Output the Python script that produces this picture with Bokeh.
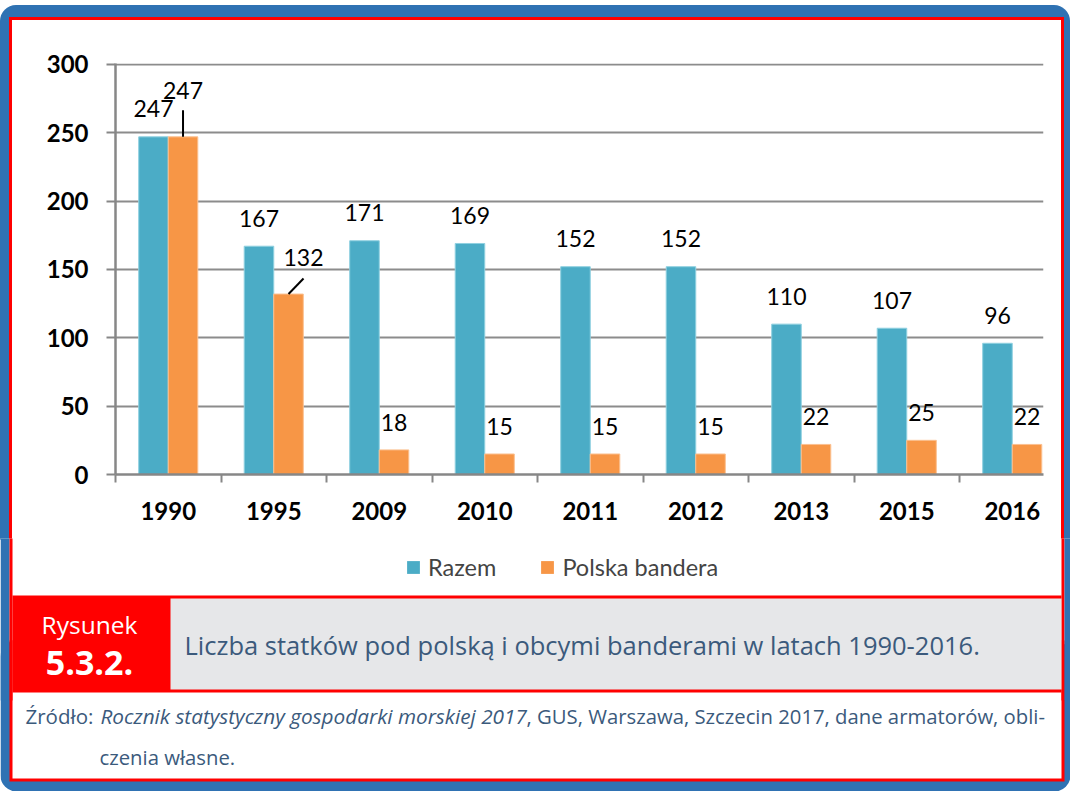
from bokeh.plotting import figure
from bokeh.layouts import column
from bokeh.models import Range1d, FixedTicker, Legend, LegendItem, ColumnDataSource
from bokeh.core.properties import value
from bokeh.embed import file_html
from bokeh.resources import INLINE

# ---------------- data ----------------
years = ["1990", "1995", "2009", "2010", "2011", "2012", "2013", "2015", "2016"]
razem = [247, 167, 171, 169, 152, 152, 110, 107, 96]
polska = [247, 132, 18, 15, 15, 15, 22, 25, 22]
y_ticks = [0, 50, 100, 150, 200, 250, 300]

series_names = ["Razem", "Polska bandera"]
caption_label = "Rysunek"
caption_number = "5.3.2."
caption_title = "Liczba  statków pod polską i obcymi banderami w latach 1990-2016."
source_a = "Źródło:"
source_b = "Rocznik statystyczny gospodarki morskiej 2017"
source_c = ", GUS, Warszawa, Szczecin 2017, dane armatorów, obli-"
source_d = "czenia własne."

# ---------------- styles ----------------
BLUE = "#4bacc6"
ORANGE = "#f79646"
FRAME_BLUE = "#2f72b3"
RED = "#ff0000"
GRAY_BOX = "#e6e7e9"
CAP_TEXT = "#3b5a7c"
AXIS_GRAY = "#878787"
FONT = "Lato"
CAP_FONT = "Open Sans"

TOTAL_W, TOTAL_H = 1070, 791
CHART_H = 540
OVERLAP = 2
CAP_H = TOTAL_H - CHART_H + OVERLAP

FL, FR, FT, FB = 115, 1043, 63, 474      # chart frame edges in canvas px
BAR_W = 0.28
PX_PER_CAT = 105.5
PX_PER_UNIT = 1.367
X_END = (FR - FL) / PX_PER_CAT - 0.5
Y_END = (FB - FT) / PX_PER_UNIT

# frame decoration for the chart part (blue rounded border, red inner line)
chart_bg = ("linear-gradient(#ffffff, #ffffff) 12px 20px / 1049px 100% no-repeat, "
            "linear-gradient(#ff0000, #ff0000) 9px 17px / 1055px 100% no-repeat, "
            + FRAME_BLUE)


def no_align(f):
    try:
        f.frame_align = False
    except Exception:
        pass


# ---------------- chart ----------------
idx = list(range(len(years)))
src = ColumnDataSource(dict(
    xr=[i - BAR_W / 2 for i in idx],
    xp=[i + BAR_W / 2 for i in idx],
    razem=razem, polska=polska,
    tr=[str(v) for v in razem], tp=[str(v) for v in polska],
    r_dy=[-28] * len(idx),
    p_dx=[0, 15] + [0] * (len(idx) - 2),
    p_dy=[-46, -36.5] + [-27.5] * (len(idx) - 2),
))

p = figure(width=TOTAL_W, height=CHART_H, output_backend="svg", toolbar_location=None,
           x_range=Range1d(-0.5, X_END), y_range=Range1d(0, Y_END),
           min_border_left=FL, min_border_right=TOTAL_W - FR,
           min_border_top=FT, min_border_bottom=CHART_H - FB,
           styles={"background": chart_bg,
                   "clip-path": "inset(5px 0px 0px 0px round 16px 16px 0px 0px)"})
no_align(p)
p.title.visible = False
p.outline_line_color = None
p.background_fill_color = "white"
p.border_fill_color = None

r1 = p.vbar(x="xr", top="razem", width=BAR_W, source=src, fill_color=BLUE,
            line_color="#8fd0e0", line_width=1)
r2 = p.vbar(x="xp", top="polska", width=BAR_W, source=src, fill_color=ORANGE,
            line_color="#fbc090", line_width=1)

p.text(x="xr", y="razem", text="tr", source=src, y_offset="r_dy",
       text_align="center", text_baseline="middle",
       text_font=value(FONT), text_font_size="23px", text_color="black")
p.text(x="xp", y="polska", text="tp", source=src, x_offset="p_dx", y_offset="p_dy",
       text_align="center", text_baseline="middle",
       text_font=value(FONT), text_font_size="23px", text_color="black")

# leader lines for the two shifted labels
lx0 = [idx[0] + BAR_W / 2, idx[1] + BAR_W / 2]
ly0 = [polska[0], polska[1]]
lx1 = [lx0[0], lx0[1] + 15 / PX_PER_CAT]
ly1 = [polska[0] + 26.5 / PX_PER_UNIT, polska[1] + 15.5 / PX_PER_UNIT]
p.segment(x0=lx0, y0=ly0, x1=lx1, y1=ly1, line_color="black", line_width=2)

p.xaxis.ticker = FixedTicker(ticks=idx, minor_ticks=[i - 0.5 for i in idx])
p.xaxis.major_label_overrides = {i: years[i] for i in idx}
p.xaxis.major_tick_line_color = None
p.xaxis.major_tick_out = 8
p.xaxis.major_tick_in = 0
p.xaxis.minor_tick_out = 8
p.xaxis.minor_tick_in = 0
p.xaxis.minor_tick_line_color = AXIS_GRAY
p.xaxis.minor_tick_line_width = 2
p.xaxis.major_label_standoff = 19

p.yaxis.ticker = FixedTicker(ticks=y_ticks, minor_ticks=[])
p.yaxis.major_tick_out = 9
p.yaxis.major_tick_in = 0
p.yaxis.major_tick_line_color = AXIS_GRAY
p.yaxis.major_tick_line_width = 2
p.yaxis.major_label_standoff = 18

for ax in (p.xaxis[0], p.yaxis[0]):
    ax.axis_line_color = AXIS_GRAY
    ax.axis_line_width = 2.5
    ax.major_label_text_font = FONT
    ax.major_label_text_font_style = "bold"
    ax.major_label_text_font_size = "24px"
    ax.major_label_text_color = "black"

p.xgrid.visible = False
p.ygrid.ticker = FixedTicker(ticks=y_ticks[1:], minor_ticks=[])
p.ygrid.grid_line_color = "#8c8c8c"
p.ygrid.grid_line_width = 2

# ---------------- caption (legend, figure label, source) ----------------
Y0 = CHART_H - OVERLAP
cap = figure(width=TOTAL_W, height=CAP_H, output_backend="svg", toolbar_location=None,
             x_range=Range1d(0, TOTAL_W), y_range=Range1d(TOTAL_H, Y0),
             x_axis_location=None, y_axis_location=None, min_border=0,
             styles={"margin-top": "-%dpx" % OVERLAP})
no_align(cap)
cap.title.visible = False
cap.outline_line_color = None
cap.background_fill_color = "white"
cap.border_fill_color = None
cap.grid.visible = False

# lower part: rounded blue frame, red line, white inside (tops hidden under the band)
cap.quad(left=0, right=1070, top=640, bottom=791, fill_color=FRAME_BLUE,
         line_color=None, border_radius=16)
cap.quad(left=9, right=1064, top=640, bottom=781, fill_color=RED, line_color=None)
cap.quad(left=12, right=1061, top=640, bottom=778, fill_color="white", line_color=None)
# upper part: non-overlapping side strips
cap.quad(left=[0, 9, 1061, 1064], right=[9, 12, 1064, 1070], top=Y0 - 20, bottom=700,
         fill_color=[FRAME_BLUE, RED, RED, FRAME_BLUE], line_color=None)
# figure band
cap.quad(left=12, right=1061, top=595, bottom=692, fill_color=RED, line_color=None)
cap.quad(left=170, right=1061, top=598, bottom=689, fill_color=GRAY_BOX, line_color=None)

# legend swatches: zero-height bars outside the visible range, styled like the series
swatch = ColumnDataSource(dict(x=[-100], top=[0]))
k1 = cap.vbar(x="x", top="top", width=1, source=swatch, fill_color=BLUE, line_color=None)
k2 = cap.vbar(x="x", top="top", width=1, source=swatch, fill_color=ORANGE, line_color=None)
legend = Legend(items=[LegendItem(label=series_names[0], renderers=[k1]),
                       LegendItem(label=series_names[1], renderers=[k2])],
                orientation="horizontal", location=(405, 210),
                border_line_color=None, background_fill_alpha=0,
                padding=0, margin=0, spacing=43, glyph_width=16, glyph_height=16,
                label_standoff=7, label_text_font=FONT,
                label_text_font_size="23.5px", label_height=16)
cap.add_layout(legend)


def cap_text(x, y, txt, size, color, align="left", style="normal"):
    cap.text(x=[x], y=[y], text=[txt], text_align=align, text_baseline="middle",
             text_font=value(CAP_FONT), text_font_size=size, text_color=color,
             text_font_style=style)


cap_text(89, 624, caption_label, "24.5px", "white", "center")
cap_text(89, 662.5, caption_number, "34px", "white", "center", "bold")
cap_text(184, 644, caption_title, "25.5px", CAP_TEXT)
cap_text(25, 715, source_a, "20.5px", CAP_TEXT)
cap_text(100, 715, source_b, "20.75px", CAP_TEXT, style="italic")
cap_text(526, 715, source_c, "20.3px", CAP_TEXT)
cap_text(99, 756, source_d, "20.3px", CAP_TEXT)

layout = column(p, cap)
open("out.html", "w").write(file_html(layout, INLINE))
